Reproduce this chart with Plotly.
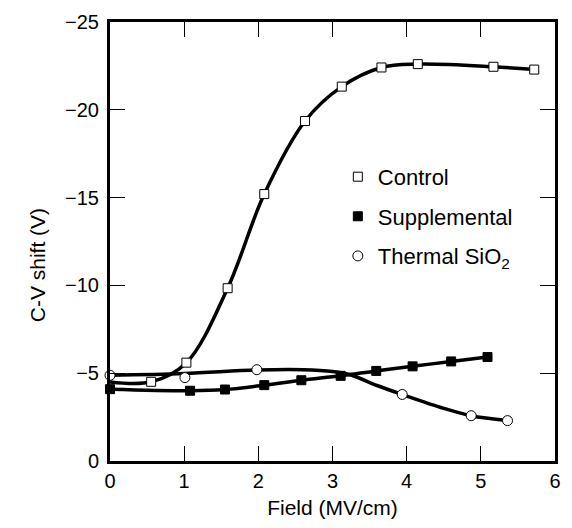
import plotly.graph_objects as go

# Control (open squares)
control_x = [0.555, 1.03, 1.586, 2.08, 2.63, 3.125, 3.66, 4.15, 5.17, 5.72]
control_y = [-4.51, -5.60, -9.84, -15.2, -19.36, -21.32, -22.41, -22.6, -22.45, -22.29]
control_start_x = [0.0]
control_start_y = [-4.5]

# Supplemental (filled squares)
supp_x = [0.0, 1.08, 1.55, 2.08, 2.58, 3.11, 3.59, 4.08, 4.60, 5.09]
supp_y = [-4.09, -4.0, -4.07, -4.32, -4.6, -4.85, -5.13, -5.39, -5.67, -5.92]

# Thermal SiO2 (open circles)
therm_x = [0.0, 1.01, 1.98, 3.94, 4.87, 5.36]
therm_y = [-4.88, -4.75, -5.2, -3.79, -2.58, -2.30]
# smooth fitted curve for thermal
therm_fit_x = [0.0, 1.0, 1.98, 2.6, 3.0, 3.25, 3.6, 3.94, 4.5, 4.87, 5.36]
therm_fit_y = [-4.88, -4.98, -5.18, -5.2, -5.1, -4.9, -4.3, -3.79, -3.0, -2.58, -2.30]

x_ticks = [0, 1, 2, 3, 4, 5, 6]
y_ticks = [0, -5, -10, -15, -20, -25]

FONT = "Liberation Sans, Arial, Helvetica, sans-serif"
LINE_W = 3.5

fig = go.Figure()

# curves
fig.add_trace(go.Scatter(x=control_start_x + control_x, y=control_start_y + control_y,
                         mode="lines", line=dict(color="black", width=LINE_W, shape="spline", smoothing=1.0),
                         showlegend=False, hoverinfo="skip"))
fig.add_trace(go.Scatter(x=supp_x, y=supp_y,
                         mode="lines", line=dict(color="black", width=LINE_W, shape="spline", smoothing=1.0),
                         showlegend=False, hoverinfo="skip"))
fig.add_trace(go.Scatter(x=therm_fit_x, y=therm_fit_y,
                         mode="lines", line=dict(color="black", width=LINE_W, shape="spline", smoothing=1.0),
                         showlegend=False, hoverinfo="skip"))

# markers
fig.add_trace(go.Scatter(x=control_x, y=control_y, mode="markers", name="Control",
                         legendgroup="a",
                         marker=dict(symbol="square", size=9, color="white", line=dict(color="black", width=1)),
                         cliponaxis=False))
fig.add_trace(go.Scatter(x=supp_x, y=supp_y, mode="markers", name="Supplemental",
                         legendgroup="b",
                         marker=dict(symbol="square", size=9, color="black", line=dict(color="black", width=1)),
                         cliponaxis=False))
fig.add_trace(go.Scatter(x=therm_x, y=therm_y, mode="markers", name="Thermal SiO<sub>2</sub>",
                         legendgroup="c",
                         marker=dict(symbol="circle", size=10, color="white", line=dict(color="black", width=1)),
                         cliponaxis=False))

axis_common = dict(
    showgrid=False, zeroline=False, showline=True, linecolor="black", linewidth=3,
    mirror="ticks", ticks="inside", ticklen=15, tickwidth=1, tickcolor="black",
    tickfont=dict(family=FONT, size=20, color="black"),
)

fig.update_xaxes(range=[0, 6], tickvals=x_ticks, ticktext=[str(v) for v in x_ticks],
                 title=dict(text="Field (MV/cm)", font=dict(family=FONT, size=21, color="black"), standoff=10),
                 **axis_common)
fig.update_yaxes(range=[0, -25], tickvals=y_ticks,
                 ticktext=[("\u2212" + str(-v)) if v < 0 else str(v) for v in y_ticks],
                 ticklabelstandoff=4,
                 **axis_common)

# y-axis title (placed slightly below the axis centre, as in the reference)
fig.add_annotation(text="C-V shift (V)", xref="paper", yref="paper", x=-0.164, y=0.446,
                   textangle=-90, showarrow=False, xanchor="center", yanchor="middle",
                   font=dict(family=FONT, size=21, color="black"))

fig.update_layout(
    width=572, height=528,
    margin=dict(l=110, r=11, t=21, b=65),
    paper_bgcolor="white", plot_bgcolor="white",
    font=dict(family=FONT, color="black"),
    legend=dict(x=0.512, y=0.695, xanchor="left", yanchor="top",
                bgcolor="rgba(0,0,0,0)", borderwidth=0,
                font=dict(family=FONT, size=22, color="black"),
                traceorder="grouped", tracegroupgap=8, itemwidth=30),
)

fig.write_html("out.html", config={"displayModeBar": False},
               post_script="document.body.style.margin='0';")
